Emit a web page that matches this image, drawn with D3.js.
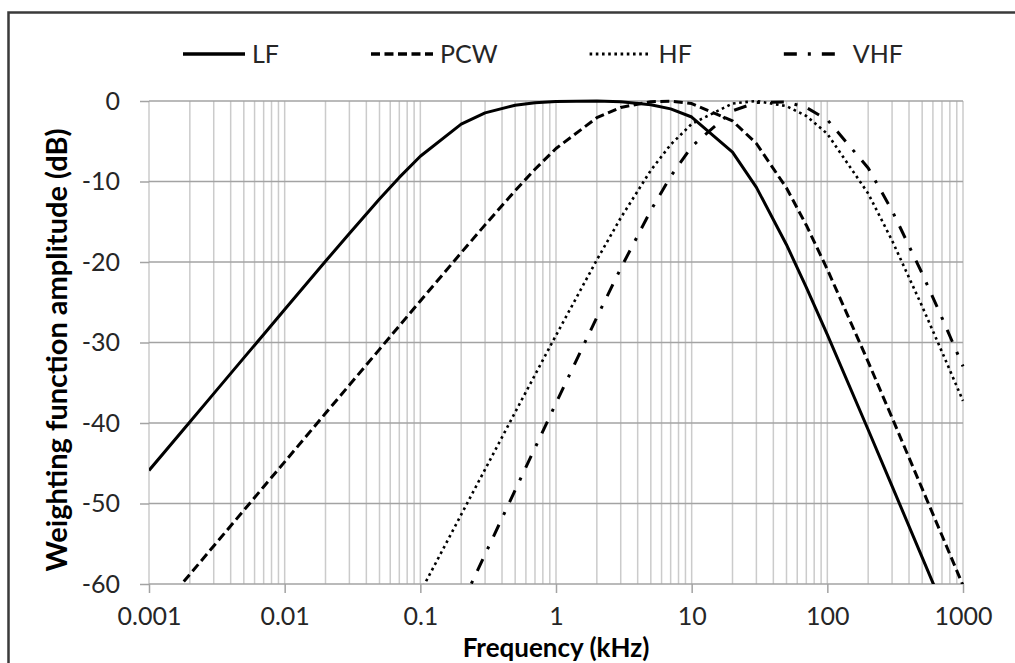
<!DOCTYPE html>
<html>
<head>
<meta charset="utf-8">
<script src="https://cdn.jsdelivr.net/npm/d3@7"></script>
<style>
  body { margin: 0; background: #fff; }
  svg { display: block; }
</style>
</head>
<body>
<svg id="chart"></svg>
<script>
// frequencies (kHz) shared by all four weighting curves
const freqs = [0.001, 0.002, 0.003, 0.005, 0.007, 0.01, 0.02, 0.03, 0.05, 0.07, 0.1, 0.2, 0.3, 0.5, 0.7,
  1, 2, 3, 5, 7, 10, 20, 30, 50, 70, 100, 200, 300, 500, 700, 1000];

// amplitudes in dB (null = off the chart, below -60)
const lfValues = [-45.89, -39.87, -36.35, -31.91, -29.0, -25.9, -19.91, -16.45, -12.17, -9.49, -6.86, -2.88, -1.47, -0.52, -0.22,
  -0.06, -0.01, -0.1, -0.46, -0.98, -1.99, -6.35, -10.73, -17.85, -23.14, -29.03, -40.84, -47.84, -56.69, -62.53, null];
const pcwValues = [-64.83, -58.8, -55.28, -50.85, -47.92, -44.83, -38.8, -35.28, -30.85, -27.93, -24.84, -18.85, -15.39, -11.14, -8.48,
  -5.9, -2.08, -0.8, -0.08, -0.02, -0.32, -2.48, -5.28, -10.81, -15.43, -20.92, -32.4, -39.34, -48.16, -53.98, -60.17];
const hfValues = [null, null, null, null, null, null, null, null, null, null, -61.02, -51.39, -45.76, -38.67, -34.02,
  -29.11, -19.74, -14.52, -8.61, -5.42, -2.85, -0.31, 0.0, -0.64, -1.86, -4.08, -11.49, -17.33, -25.51, -31.16, -37.25];
const vhfValues = [null, null, null, null, null, null, null, null, null, null, null, -62.65, -56.33, -48.34, -43.1,
  -37.54, -26.87, -20.79, -13.59, -9.38, -5.66, -1.22, -0.19, -0.12, -0.81, -2.33, -8.32, -13.61, -21.42, -26.94, -32.96];

const seriesNames = ['LF', 'PCW', 'HF', 'VHF'];
const seriesValues = [lfValues, pcwValues, hfValues, vhfValues];

const yTicks = [0, -10, -20, -30, -40, -50, -60];
const xTicks = [0.001, 0.01, 0.1, 1, 10, 100, 1000];
const xTickLabels = ['0.001', '0.01', '0.1', '1', '10', '100', '1000'];

const lineStyles = {
  LF:  { width: 3, dash: null },
  PCW: { width: 3, dash: '9,4.5' },
  HF:  { width: 2.6, dash: '2.6,3.6' },
  VHF: { width: 3, dash: '13,11,3,11' }
};

const W = 1015, H = 663;
const margin = { top: 101, right: 52, bottom: 79, left: 149 };
const innerW = W - margin.left - margin.right;
const innerH = H - margin.top - margin.bottom;
const fontFamily = 'Lato, "Open Sans", sans-serif';

const svg = d3.select('#chart').attr('width', W).attr('height', H);

// outer chart frame (right and bottom run off the picture)
svg.append('rect')
  .attr('x', 8.5).attr('y', 12.5)
  .attr('width', W + 20).attr('height', H + 20)
  .attr('fill', 'none')
  .attr('stroke', '#3a3a3a')
  .attr('stroke-width', 2.5);

const g = svg.append('g').attr('transform', `translate(${margin.left},${margin.top})`);

const x = d3.scaleLog().domain([0.001, 1000]).range([0, innerW]);
const y = d3.scaleLinear().domain([-60, 0]).range([innerH, 0]);

// vertical grid: every 1..9 step of each decade
const minorTicks = [];
for (let e = -3; e <= 2; e++) {
  for (let m = 1; m <= 9; m++) minorTicks.push(m * Math.pow(10, e));
}
minorTicks.push(1000);

g.selectAll('.vgrid')
  .data(minorTicks)
  .enter()
  .append('line')
  .attr('class', 'vgrid')
  .attr('x1', d => x(d)).attr('x2', d => x(d))
  .attr('y1', 0).attr('y2', innerH)
  .attr('stroke', '#cbcbcb')
  .attr('stroke-width', 1.5);

g.selectAll('.hgrid')
  .data(yTicks)
  .enter()
  .append('line')
  .attr('class', 'hgrid')
  .attr('x1', 0).attr('x2', innerW)
  .attr('y1', d => y(d)).attr('y2', d => y(d))
  .attr('stroke', '#a3a3a3')
  .attr('stroke-width', 1.5);

// axes
const yAxis = d3.axisLeft(y).tickValues(yTicks).tickSize(9).tickPadding(20).tickFormat(d => String(d));
const yAxisG = g.append('g').call(yAxis);
yAxisG.select('.domain').remove();

const xAxis = d3.axisBottom(x).tickValues(xTicks).tickSize(9).tickPadding(14)
  .tickFormat((d, i) => xTickLabels[i]);
const xAxisG = g.append('g').attr('transform', `translate(0,${innerH})`).call(xAxis);
xAxisG.select('.domain').remove();

[yAxisG, xAxisG].forEach(a => {
  a.selectAll('.tick line').attr('stroke', '#a3a3a3').attr('stroke-width', 1.5);
  a.selectAll('.tick text')
    .attr('fill', '#262626')
    .attr('font-family', fontFamily)
    .attr('font-size', '25px');
});

// curves
svg.append('defs').append('clipPath').attr('id', 'plot-clip')
  .append('rect')
  .attr('x', 0).attr('y', -4)
  .attr('width', innerW + 2).attr('height', innerH + 4);

const line = d3.line()
  .defined(d => d.v !== null)
  .x(d => x(d.f))
  .y(d => y(d.v));

const series = seriesNames.map((name, i) => ({
  name,
  points: freqs.map((f, j) => ({ f, v: seriesValues[i][j] }))
}));

g.append('g').attr('clip-path', 'url(#plot-clip)')
  .selectAll('.curve')
  .data(series)
  .enter()
  .append('path')
  .attr('class', 'curve')
  .attr('d', d => line(d.points))
  .attr('fill', 'none')
  .attr('stroke', '#000')
  .attr('stroke-width', d => lineStyles[d.name].width)
  .attr('stroke-dasharray', d => lineStyles[d.name].dash)
  .attr('stroke-linejoin', 'round');

// legend
const legendY = 54;
const sampleLen = 62;
let lx = 183;
series.forEach(s => {
  const st = lineStyles[s.name];
  svg.append('line')
    .attr('x1', lx).attr('x2', lx + sampleLen)
    .attr('y1', legendY).attr('y2', legendY)
    .attr('stroke', '#000')
    .attr('stroke-width', st.width + 0.5)
    .attr('stroke-dasharray', st.dash);
  const t = svg.append('text')
    .attr('x', lx + sampleLen + 7)
    .attr('y', legendY)
    .attr('dy', '0.36em')
    .attr('fill', '#262626')
    .attr('font-family', fontFamily)
    .attr('font-size', '25px')
    .text(s.name);
  lx += sampleLen + 7 + t.node().getComputedTextLength() + 92;
});

// axis titles
svg.append('text')
  .attr('x', margin.left + x(1))
  .attr('y', 657)
  .attr('text-anchor', 'middle')
  .attr('fill', '#000')
  .attr('font-family', fontFamily)
  .attr('font-weight', 700)
  .attr('font-size', '26px')
  .text('Frequency (kHz)');

svg.append('text')
  .attr('transform', 'translate(57,350) rotate(-90)')
  .attr('text-anchor', 'middle')
  .attr('dy', '0.35em')
  .attr('fill', '#000')
  .attr('font-family', fontFamily)
  .attr('font-weight', 700)
  .attr('font-size', '29px')
  .text('Weighting function amplitude (dB)');
</script>
</body>
</html>
